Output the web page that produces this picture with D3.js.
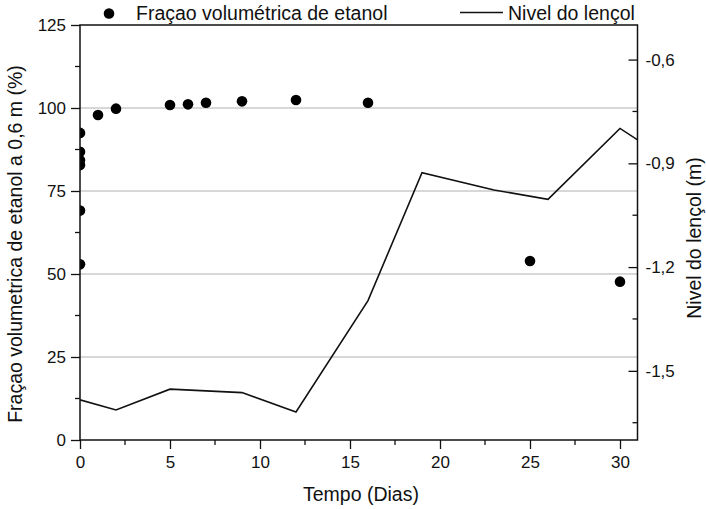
<!DOCTYPE html>
<html>
<head>
<meta charset="utf-8">
<script src="https://cdn.jsdelivr.net/npm/d3@7"></script>
<style>
  html, body { margin: 0; padding: 0; background: #fff; }
  svg { display: block; font-family: "Liberation Sans", Arial, sans-serif; }
</style>
</head>
<body>
<svg id="chart" width="706" height="509"></svg>
<script>
// Ethanol volume fraction at 0.6 m (left axis, %)
const diasEtanol = [0, 0, 0, 0, 0, 0, 1, 2, 5, 6, 7, 9, 12, 16, 25, 30];
const fracaoEtanol = [52.9, 69.1, 82.8, 84.3, 86.8, 92.5, 97.9, 99.8, 100.9, 101.1, 101.6, 102.0, 102.4, 101.6, 53.9, 47.7];

// Water table level (right axis, m)
const diasNivel = [0, 2, 5, 9, 12, 16, 19, 23, 26, 30, 31];
const nivelLencol = [-1.584, -1.613, -1.553, -1.563, -1.619, -1.297, -0.927, -0.977, -1.004, -0.799, -0.833];

// Tick values
const xTicks = [0, 5, 10, 15, 20, 25, 30];
const yLeftTicks = [0, 25, 50, 75, 100, 125];
const yRightTicks = [-0.6, -0.9, -1.2, -1.5];
const gridValues = [25, 50, 75, 100];

const svg = d3.select("#chart");
const plotLeft = 80, plotRight = 637.5, plotTop = 25, plotBottom = 440;
const ink = "#111";
const fontFam = "Liberation Sans, Arial, sans-serif";
const tickFont = 17, titleFont = 19.5;
const majorLen = 9, minorLen = 5;

const x = d3.scaleLinear().domain([0, 31]).range([plotLeft, plotLeft + 31 * 18]);
const yL = d3.scaleLinear().domain([0, 125]).range([plotBottom, plotTop]);
const yR = d3.scaleLinear().domain([-1.7, -0.5]).range([plotBottom, plotTop]);

// horizontal gridlines
svg.append("g").selectAll("line").data(gridValues).join("line")
  .attr("x1", plotLeft).attr("x2", plotRight)
  .attr("y1", d => yL(d)).attr("y2", d => yL(d))
  .attr("stroke", "#b0b0b0").attr("stroke-width", 1);

// clip region for the data layers
svg.append("clipPath").attr("id", "plotClip")
  .append("rect").attr("x", plotLeft).attr("y", plotTop)
  .attr("width", plotRight - plotLeft).attr("height", plotBottom - plotTop);

const dataLayer = svg.append("g").attr("clip-path", "url(#plotClip)");

// water-table line
const line = d3.line().x((d, i) => x(diasNivel[i])).y(d => yR(d));
dataLayer.append("path").datum(nivelLencol)
  .attr("d", line)
  .attr("fill", "none").attr("stroke", ink).attr("stroke-width", 1.6)
  .attr("stroke-linejoin", "miter");

// ethanol dots
dataLayer.append("g").selectAll("circle").data(fracaoEtanol).join("circle")
  .attr("cx", (d, i) => x(diasEtanol[i]))
  .attr("cy", d => yL(d))
  .attr("r", 5.3)
  .attr("fill", "#000");

function styleAxis(g) {
  g.select(".domain").remove();
  g.selectAll("text").attr("font-size", tickFont).attr("fill", ink).attr("font-family", fontFam);
  g.selectAll("line").attr("stroke", ink).attr("stroke-width", 1.3);
}

// bottom axis
const xAxis = d3.axisBottom(x).tickValues(xTicks).tickSize(majorLen).tickPadding(7).tickFormat(d3.format("d"));
svg.append("g").attr("transform", `translate(0,${plotBottom})`).call(xAxis).call(styleAxis);
svg.append("g").selectAll("line").data(d3.range(2.5, 31, 5)).join("line")
  .attr("x1", d => x(d)).attr("x2", d => x(d))
  .attr("y1", plotBottom).attr("y2", plotBottom + minorLen)
  .attr("stroke", ink).attr("stroke-width", 1.3);

// left axis
const yAxisL = d3.axisLeft(yL).tickValues(yLeftTicks).tickSize(majorLen).tickPadding(5).tickFormat(d3.format("d"));
svg.append("g").attr("transform", `translate(${plotLeft},0)`).call(yAxisL).call(styleAxis);
svg.append("g").selectAll("line").data(d3.range(12.5, 125, 25)).join("line")
  .attr("x1", plotLeft - minorLen).attr("x2", plotLeft)
  .attr("y1", d => yL(d)).attr("y2", d => yL(d))
  .attr("stroke", ink).attr("stroke-width", 1.3);

// right axis (ticks pointing inward)
const yAxisR = d3.axisRight(yR).tickValues(yRightTicks).tickSize(-majorLen).tickPadding(8)
  .tickFormat(d => d3.format(".1f")(d).replace("−", "-").replace(".", ","));
svg.append("g").attr("transform", `translate(${plotRight},0)`).call(yAxisR).call(styleAxis);
svg.append("g").selectAll("line").data([-0.75, -1.05, -1.35, -1.65]).join("line")
  .attr("x1", plotRight - minorLen).attr("x2", plotRight)
  .attr("y1", d => yR(d)).attr("y2", d => yR(d))
  .attr("stroke", ink).attr("stroke-width", 1.3);

// frame
svg.append("rect").attr("x", plotLeft).attr("y", plotTop)
  .attr("width", plotRight - plotLeft).attr("height", plotBottom - plotTop)
  .attr("fill", "none").attr("stroke", ink).attr("stroke-width", 1.5);

// axis titles
svg.append("text").attr("x", 361).attr("y", 501).attr("text-anchor", "middle")
  .attr("font-size", titleFont).attr("fill", ink).text("Tempo (Dias)");
svg.append("text").attr("transform", "translate(22,244) rotate(-90)").attr("text-anchor", "middle")
  .attr("font-size", titleFont).attr("fill", ink).text("Fraçao volumetrica de etanol a 0,6 m (%)");
svg.append("text").attr("transform", "translate(701,238) rotate(-90)").attr("text-anchor", "middle")
  .attr("font-size", titleFont).attr("fill", ink).text("Nivel do lençol (m)");

// legend
const lg = svg.append("g");
lg.append("circle").attr("cx", 109).attr("cy", 13.5).attr("r", 5.3).attr("fill", "#000");
lg.append("text").attr("x", 136).attr("y", 20).attr("font-size", titleFont).attr("fill", ink)
  .text("Fraçao volumétrica de etanol");
lg.append("line").attr("x1", 460).attr("x2", 503).attr("y1", 12.5).attr("y2", 12.5)
  .attr("stroke", ink).attr("stroke-width", 1.6);
lg.append("text").attr("x", 508).attr("y", 20).attr("font-size", titleFont).attr("fill", ink)
  .text("Nivel do lençol");
</script>
</body>
</html>
